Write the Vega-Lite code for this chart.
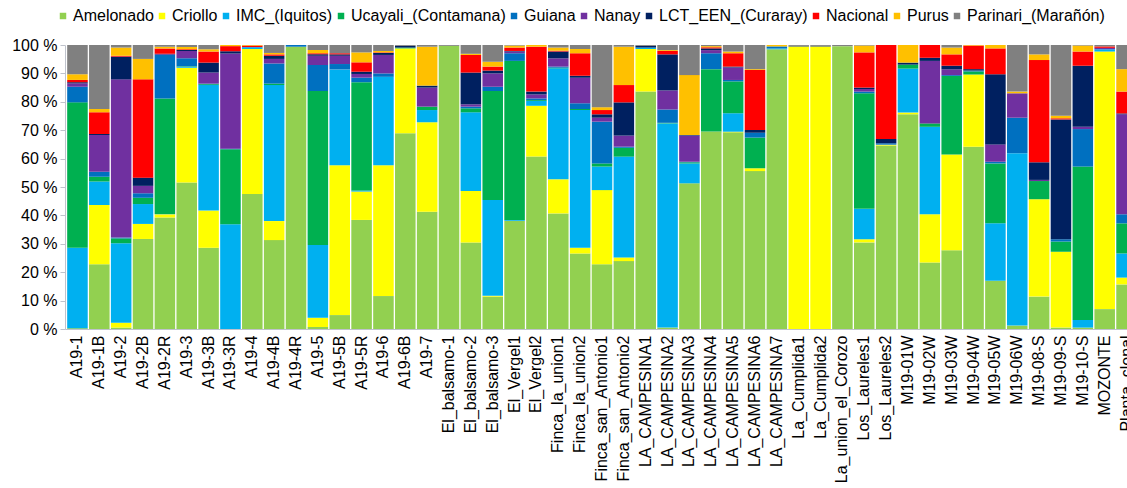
{
  "$schema": "https://vega.github.io/schema/vega-lite/v6.json",
  "width": 1062,
  "height": 284,
  "autosize": {"type": "none"},
  "padding": {"left": 65, "top": 45, "right": 0, "bottom": 159},
  "background": "white",
  "config": {
    "font": "Liberation Sans",
    "view": {"stroke": null},
    "axis": {"labelColor": "#000000", "labelFont": "Liberation Sans", "domainColor": "#BFC3CC", "tickColor": "#BFC3CC"}
  },
  "datasets": {
    "groups": [
      {"key": "Am", "name": "Amelonado", "k": 0},
      {"key": "Cr", "name": "Criollo", "k": 1},
      {"key": "IMC", "name": "IMC_(Iquitos)", "k": 2},
      {"key": "Uc", "name": "Ucayali_(Contamana)", "k": 3},
      {"key": "Gu", "name": "Guiana", "k": 4},
      {"key": "Na", "name": "Nanay", "k": 5},
      {"key": "LCT", "name": "LCT_EEN_(Curaray)", "k": 6},
      {"key": "Nac", "name": "Nacional", "k": 7},
      {"key": "Pu", "name": "Purus", "k": 8},
      {"key": "Pa", "name": "Parinari_(Marañón)", "k": 9}
    ],
    "samples": [
      {"s": "A19-1", "Am": 0.3, "Cr": 0, "IMC": 28.3, "Uc": 51.2, "Gu": 5.5, "Na": 1.2, "LCT": 0.4, "Nac": 0.8, "Pu": 2, "Pa": 10.3},
      {"s": "A19-1B", "Am": 22.8, "Cr": 20.9, "IMC": 8.2, "Uc": 1.7, "Gu": 1.8, "Na": 12.9, "LCT": 0.4, "Nac": 7.6, "Pu": 1.2, "Pa": 22.5},
      {"s": "A19-2", "Am": 0.5, "Cr": 1.7, "IMC": 28, "Uc": 1.7, "Gu": 0.3, "Na": 55.7, "LCT": 8, "Nac": 0.3, "Pu": 2.9, "Pa": 0.9},
      {"s": "A19-2B", "Am": 31.7, "Cr": 5.3, "IMC": 7, "Uc": 2.2, "Gu": 1.6, "Na": 2.6, "LCT": 2.9, "Nac": 34.6, "Pu": 7.2, "Pa": 4.9},
      {"s": "A19-2R", "Am": 39.3, "Cr": 1.1, "IMC": 0.1, "Uc": 40.7, "Gu": 15.3, "Na": 0.2, "LCT": 0.2, "Nac": 1.9, "Pu": 0.6, "Pa": 0.6},
      {"s": "A19-3", "Am": 51.6, "Cr": 40.4, "IMC": 0.3, "Uc": 0.2, "Gu": 2.8, "Na": 2.6, "LCT": 0.3, "Nac": 0.3, "Pu": 0.8, "Pa": 0.7},
      {"s": "A19-3B", "Am": 28.6, "Cr": 13.1, "IMC": 44.2, "Uc": 0.3, "Gu": 0.2, "Na": 3.9, "LCT": 3.5, "Nac": 3.9, "Pu": 0.8, "Pa": 1.5},
      {"s": "A19-3R", "Am": 0, "Cr": 0, "IMC": 36.9, "Uc": 26.4, "Gu": 0.2, "Na": 33.5, "LCT": 0.8, "Nac": 1.8, "Pu": 0.4, "Pa": 0},
      {"s": "A19-4", "Am": 47.5, "Cr": 51.1, "IMC": 0.5, "Uc": 0, "Gu": 0.2, "Na": 0, "LCT": 0, "Nac": 0.5, "Pu": 0.2, "Pa": 0},
      {"s": "A19-4B", "Am": 31.3, "Cr": 6.7, "IMC": 47.9, "Uc": 0.5, "Gu": 7.1, "Na": 1.6, "LCT": 1.1, "Nac": 0.5, "Pu": 0.5, "Pa": 2.8},
      {"s": "A19-4R", "Am": 99.4, "Cr": 0, "IMC": 0, "Uc": 0, "Gu": 0.6, "Na": 0, "LCT": 0, "Nac": 0, "Pu": 0, "Pa": 0},
      {"s": "A19-5", "Am": 0.7, "Cr": 3.3, "IMC": 25.6, "Uc": 54.2, "Gu": 9.2, "Na": 3.2, "LCT": 0.5, "Nac": 0.4, "Pu": 1.1, "Pa": 1.8},
      {"s": "A19-5B", "Am": 4.9, "Cr": 52.8, "IMC": 33.7, "Uc": 0, "Gu": 1.9, "Na": 2.9, "LCT": 0.5, "Nac": 0.4, "Pu": 0, "Pa": 2.9},
      {"s": "A19-5R", "Am": 38.4, "Cr": 10, "IMC": 0.4, "Uc": 38.1, "Gu": 1.6, "Na": 1.3, "LCT": 0.8, "Nac": 3.3, "Pu": 3.5, "Pa": 2.6},
      {"s": "A19-6", "Am": 11.6, "Cr": 46.1, "IMC": 31.1, "Uc": 0, "Gu": 1.2, "Na": 6.5, "LCT": 0.7, "Nac": 0.2, "Pu": 0.5, "Pa": 2.1},
      {"s": "A19-6B", "Am": 68.9, "Cr": 29.9, "IMC": 0, "Uc": 0.3, "Gu": 0, "Na": 0, "LCT": 0.6, "Nac": 0, "Pu": 0, "Pa": 0.3},
      {"s": "A19-7", "Am": 41.3, "Cr": 31.5, "IMC": 4.3, "Uc": 1.2, "Gu": 0, "Na": 6.7, "LCT": 0.7, "Nac": 0, "Pu": 13.7, "Pa": 0.6},
      {"s": "El_balsamo-1", "Am": 99.7, "Cr": 0, "IMC": 0, "Uc": 0, "Gu": 0, "Na": 0, "LCT": 0, "Nac": 0, "Pu": 0, "Pa": 0.3},
      {"s": "El_balsamo-2", "Am": 30.5, "Cr": 18.1, "IMC": 27.7, "Uc": 1.4, "Gu": 0.6, "Na": 0.8, "LCT": 11.2, "Nac": 6.2, "Pu": 0.4, "Pa": 3.1},
      {"s": "El_balsamo-3", "Am": 11.4, "Cr": 0.3, "IMC": 33.7, "Uc": 38.4, "Gu": 1.5, "Na": 4.7, "LCT": 1, "Nac": 1.4, "Pu": 1.7, "Pa": 5.9},
      {"s": "El_Vergel1", "Am": 38.1, "Cr": 0, "IMC": 0.3, "Uc": 56, "Gu": 2.7, "Na": 0.6, "LCT": 0.2, "Nac": 1.2, "Pu": 0.7, "Pa": 0.2},
      {"s": "El_Vergel2", "Am": 60.7, "Cr": 17.9, "IMC": 1.7, "Uc": 0.3, "Gu": 0.6, "Na": 1.4, "LCT": 1, "Nac": 15.8, "Pu": 0.6, "Pa": 0},
      {"s": "Finca_la_union1", "Am": 40.7, "Cr": 12, "IMC": 39.1, "Uc": 0.2, "Gu": 0.4, "Na": 2.9, "LCT": 2.4, "Nac": 0.3, "Pu": 1.1, "Pa": 0.9},
      {"s": "Finca_la_union2", "Am": 26.6, "Cr": 2, "IMC": 48.5, "Uc": 0.4, "Gu": 2, "Na": 9, "LCT": 0.7, "Nac": 7.9, "Pu": 1.5, "Pa": 1.4},
      {"s": "Finca_san_Antonio1", "Am": 22.8, "Cr": 26.1, "IMC": 8.3, "Uc": 1.1, "Gu": 14.7, "Na": 1.4, "LCT": 1.2, "Nac": 1.5, "Pu": 1, "Pa": 21.9},
      {"s": "Finca_san_Antonio2", "Am": 23.9, "Cr": 1.3, "IMC": 35.5, "Uc": 3.1, "Gu": 0.4, "Na": 3.9, "LCT": 11.7, "Nac": 6.1, "Pu": 13.5, "Pa": 0.6},
      {"s": "LA_CAMPESINA1", "Am": 83.6, "Cr": 15, "IMC": 0.5, "Uc": 0, "Gu": 0, "Na": 0, "LCT": 0.6, "Nac": 0, "Pu": 0, "Pa": 0.3},
      {"s": "LA_CAMPESINA2", "Am": 0.5, "Cr": 0, "IMC": 71.9, "Uc": 0.2, "Gu": 4.7, "Na": 6.7, "LCT": 12.7, "Nac": 1.2, "Pu": 0.3, "Pa": 1.8},
      {"s": "LA_CAMPESINA3", "Am": 51.3, "Cr": 0, "IMC": 7, "Uc": 0.4, "Gu": 0.2, "Na": 9.2, "LCT": 0.2, "Nac": 0, "Pu": 21.1, "Pa": 10.6},
      {"s": "LA_CAMPESINA4", "Am": 69.5, "Cr": 0, "IMC": 0, "Uc": 22, "Gu": 5.6, "Na": 1.1, "LCT": 0.6, "Nac": 0.4, "Pu": 0.4, "Pa": 0.4},
      {"s": "LA_CAMPESINA5", "Am": 69.2, "Cr": 0.2, "IMC": 6.5, "Uc": 11.2, "Gu": 0.5, "Na": 4.4, "LCT": 0.3, "Nac": 4.7, "Pu": 0.6, "Pa": 2.3},
      {"s": "LA_CAMPESINA6", "Am": 55.6, "Cr": 1, "IMC": 0, "Uc": 10.8, "Gu": 1.7, "Na": 0, "LCT": 1, "Nac": 21.1, "Pu": 0.3, "Pa": 8.5},
      {"s": "LA_CAMPESINA7", "Am": 98.5, "Cr": 0, "IMC": 0.3, "Uc": 0, "Gu": 0.7, "Na": 0, "LCT": 0, "Nac": 0, "Pu": 0.5, "Pa": 0},
      {"s": "La_Cumplida1", "Am": 0, "Cr": 99.5, "IMC": 0, "Uc": 0, "Gu": 0, "Na": 0, "LCT": 0.2, "Nac": 0, "Pu": 0, "Pa": 0.3},
      {"s": "La_Cumplida2", "Am": 0, "Cr": 99.5, "IMC": 0, "Uc": 0, "Gu": 0, "Na": 0, "LCT": 0.2, "Nac": 0, "Pu": 0, "Pa": 0.3},
      {"s": "La_union_el_Corozo", "Am": 99.6, "Cr": 0, "IMC": 0, "Uc": 0, "Gu": 0, "Na": 0, "LCT": 0, "Nac": 0, "Pu": 0, "Pa": 0.4},
      {"s": "Los_Laureles1", "Am": 30.5, "Cr": 1.1, "IMC": 10.7, "Uc": 40.7, "Gu": 0.6, "Na": 0.9, "LCT": 0.5, "Nac": 12.4, "Pu": 2.4, "Pa": 0.2},
      {"s": "Los_Laureles2", "Am": 64.6, "Cr": 0.3, "IMC": 0, "Uc": 0, "Gu": 0.5, "Na": 0, "LCT": 1.5, "Nac": 33.1, "Pu": 0, "Pa": 0},
      {"s": "M19-01W", "Am": 75.6, "Cr": 0.6, "IMC": 15.5, "Uc": 1.4, "Gu": 0, "Na": 0, "LCT": 0.7, "Nac": 0, "Pu": 6.2, "Pa": 0},
      {"s": "M19-02W", "Am": 23.4, "Cr": 17, "IMC": 30.8, "Uc": 1.2, "Gu": 0, "Na": 22, "LCT": 1.1, "Nac": 4.5, "Pu": 0, "Pa": 0},
      {"s": "M19-03W", "Am": 27.8, "Cr": 33.7, "IMC": 0, "Uc": 27.7, "Gu": 0.3, "Na": 2, "LCT": 1.3, "Nac": 4, "Pu": 2.4, "Pa": 0.9},
      {"s": "M19-04W", "Am": 64.2, "Cr": 25.5, "IMC": 0, "Uc": 1.1, "Gu": 0.3, "Na": 0, "LCT": 0.5, "Nac": 8.3, "Pu": 0.2, "Pa": 0},
      {"s": "M19-05W", "Am": 17, "Cr": 0, "IMC": 20.2, "Uc": 21.1, "Gu": 0.6, "Na": 6.1, "LCT": 24.7, "Nac": 9.1, "Pu": 1.2, "Pa": 0},
      {"s": "M19-06W", "Am": 1.2, "Cr": 0, "IMC": 60.7, "Uc": 0, "Gu": 12.5, "Na": 8.6, "LCT": 0, "Nac": 0, "Pu": 0.6, "Pa": 16.4},
      {"s": "M19-08-S", "Am": 11.4, "Cr": 34.3, "IMC": 0, "Uc": 6.4, "Gu": 0, "Na": 0.4, "LCT": 6.2, "Nac": 36, "Pu": 2, "Pa": 3.3},
      {"s": "M19-09-S", "Am": 0.5, "Cr": 26.7, "IMC": 0, "Uc": 3.6, "Gu": 0.8, "Na": 0, "LCT": 42.2, "Nac": 0.4, "Pu": 0.9, "Pa": 24.9},
      {"s": "M19-10-S", "Am": 0.5, "Cr": 0, "IMC": 2.7, "Uc": 54, "Gu": 13.2, "Na": 0.8, "LCT": 21.5, "Nac": 5, "Pu": 2.1, "Pa": 0.2},
      {"s": "MOZONTE", "Am": 7, "Cr": 90.7, "IMC": 0.8, "Uc": 0, "Gu": 0, "Na": 0.5, "LCT": 0, "Nac": 0.5, "Pu": 0, "Pa": 0.5},
      {"s": "Planta_clonal", "Am": 15.7, "Cr": 2.4, "IMC": 8.5, "Uc": 10.6, "Gu": 3.2, "Na": 35.2, "LCT": 0.3, "Nac": 7.7, "Pu": 7.9, "Pa": 8.5}
    ]
  },
  "data": {"name": "samples"},
  "transform": [
    {"fold": ["Am", "Cr", "IMC", "Uc", "Gu", "Na", "LCT", "Nac", "Pu", "Pa"], "as": ["key", "value"]},
    {"lookup": "key", "from": {"data": {"name": "groups"}, "key": "key", "fields": ["name", "k"]}}
  ],
  "mark": {"type": "bar"},
  "encoding": {
    "x": {
      "field": "s", "type": "nominal", "sort": null,
      "scale": {"range": [0, 1074], "paddingInner": 0.06, "paddingOuter": 0.1},
      "axis": {"title": null, "labelAngle": -90, "labelFontSize": 16, "ticks": false, "labelPadding": 6, "labelOverlap": false, "labelLimit": 0}
    },
    "y": {
      "field": "value", "type": "quantitative", "stack": "normalize",
      "scale": {"domain": [0, 1], "nice": false},
      "axis": {"title": null, "grid": false, "values": [0, 0.1, 0.2, 0.3, 0.4, 0.5, 0.6, 0.7, 0.8, 0.9, 1], "labelExpr": "round(datum.value * 100) + ' %'", "labelFontSize": 16, "tickSize": 5, "labelPadding": 3}
    },
    "color": {
      "field": "name", "type": "nominal",
      "scale": {
        "domain": ["Amelonado", "Criollo", "IMC_(Iquitos)", "Ucayali_(Contamana)", "Guiana", "Nanay", "LCT_EEN_(Curaray)", "Nacional", "Purus", "Parinari_(Marañón)"],
        "range": ["#92D050", "#FFFF00", "#00B0F0", "#00B050", "#0070C0", "#7030A0", "#002060", "#FF0000", "#FFC000", "#808080"]
      },
      "legend": {
        "title": null, "orient": "none", "legendX": -10, "legendY": -37, "direction": "horizontal",
        "symbolType": "square", "symbolSize": 42, "symbolStrokeWidth": 0,
        "labelFontSize": 16, "labelColor": "#000000", "labelOffset": 2, "columnPadding": 0
      }
    },
    "order": {"field": "k", "type": "quantitative"}
  }
}
